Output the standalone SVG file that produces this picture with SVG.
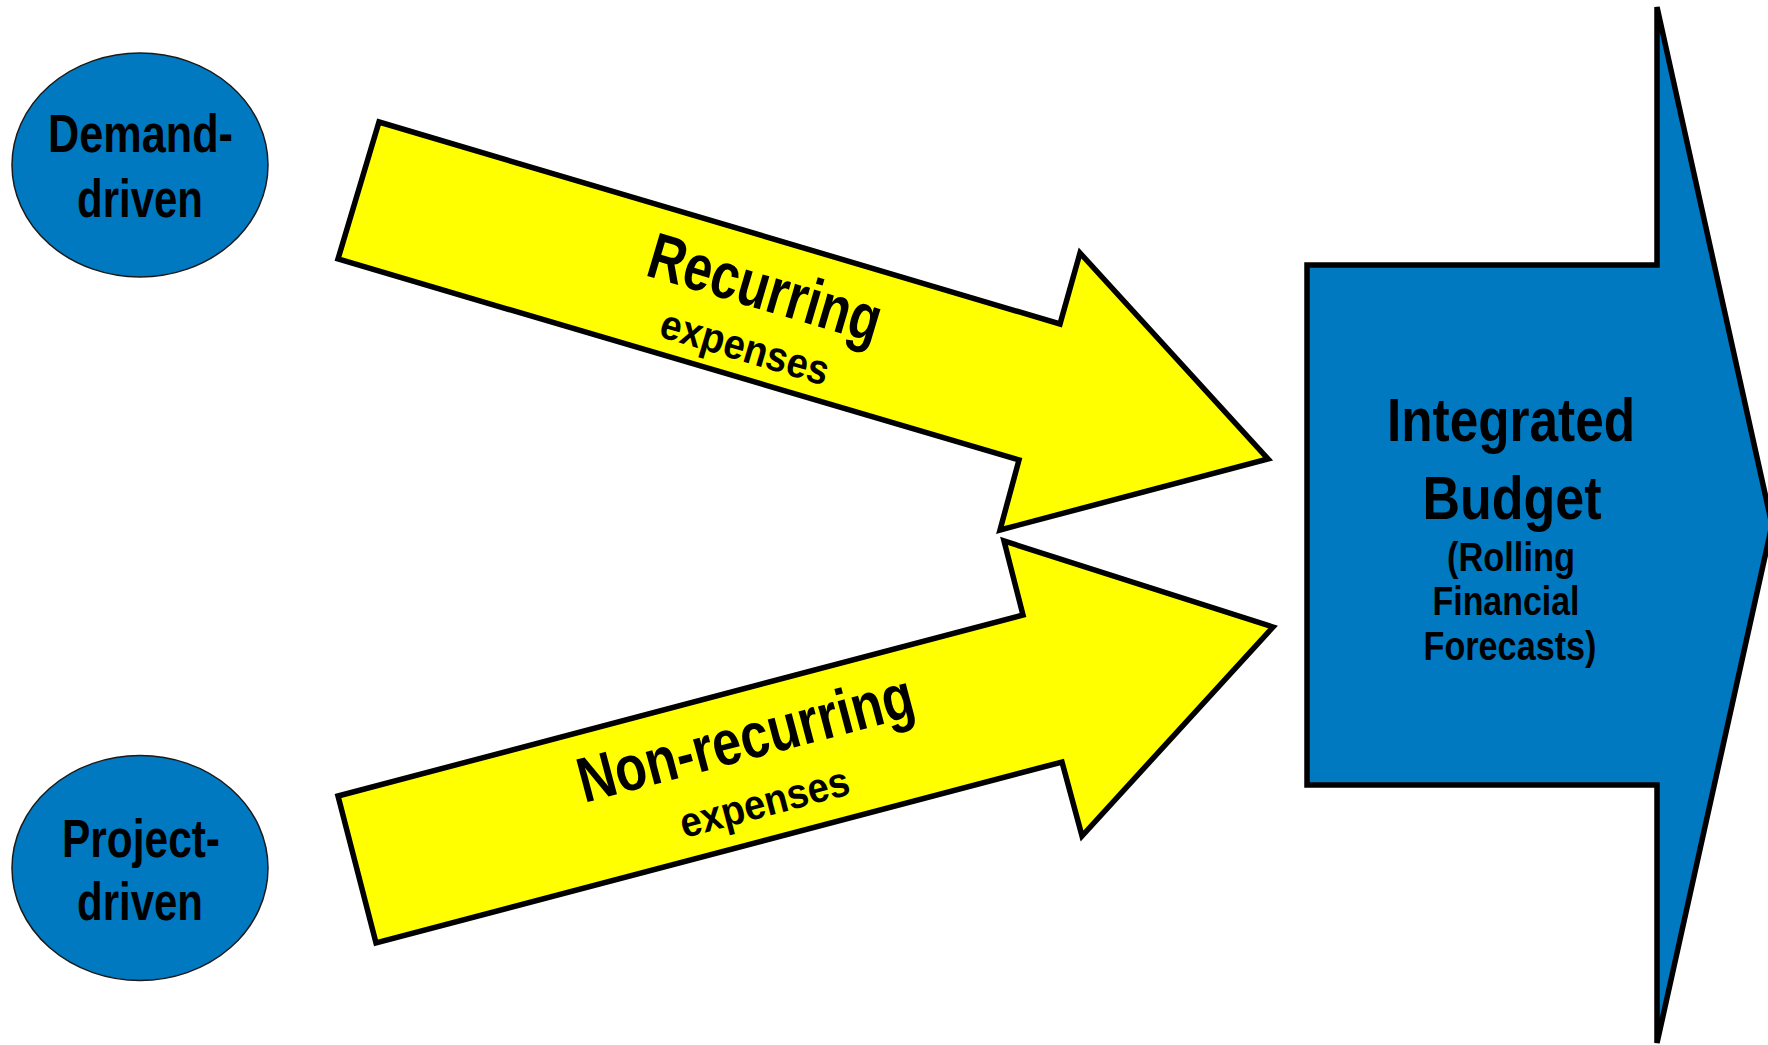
<svg xmlns="http://www.w3.org/2000/svg" width="1768" height="1045" viewBox="0 0 1768 1045">
<style>
.t{font-family:"Liberation Sans",Arial,sans-serif;font-weight:bold;fill:#000;text-anchor:middle}
.ell{fill:#0179C1;stroke:#1a1a1a;stroke-width:1.5}
.ya{fill:#FFFF00;stroke:#000;stroke-width:5.5;stroke-linejoin:miter}
.ba{fill:#0179C1;stroke:#000;stroke-width:5.5;stroke-linejoin:miter}
</style>
<rect width="1768" height="1045" fill="#fff"/>
<g id="demand-driven">
<ellipse class="ell" cx="140" cy="165" rx="128" ry="112"/>
<text class="t" x="140.5" y="152" font-size="53" textLength="185" lengthAdjust="spacingAndGlyphs">Demand-</text>
<text class="t" x="140" y="217" font-size="53" textLength="126" lengthAdjust="spacingAndGlyphs">driven</text>
</g>
<g id="project-driven">
<ellipse class="ell" cx="140" cy="868" rx="128" ry="112.5"/>
<text class="t" x="141" y="857" font-size="53" textLength="158" lengthAdjust="spacingAndGlyphs">Project-</text>
<text class="t" x="140" y="920" font-size="53" textLength="126" lengthAdjust="spacingAndGlyphs">driven</text>
</g>
<g id="connectors">
<g id="recurring">
<polygon class="ya" points="379,122 1060,324 1080,253 1268,459 1000,530 1019,460 338,259"/>
<text class="t" transform="translate(759,309) rotate(16.5)" font-size="65" textLength="240" lengthAdjust="spacingAndGlyphs">Recurring</text>
<text class="t" transform="translate(741,361) rotate(16.5)" font-size="42" textLength="174" lengthAdjust="spacingAndGlyphs">expenses</text>
</g>
<g id="non-recurring">
<polygon class="ya" points="338,796 1023,615 1004,541 1273,627 1082,836 1062,762 376,943"/>
<text class="t" transform="translate(751,759) rotate(-14.8)" font-size="64" textLength="345" lengthAdjust="spacingAndGlyphs">Non-recurring</text>
<text class="t" transform="translate(768,816) rotate(-14.8)" font-size="42" textLength="174" lengthAdjust="spacingAndGlyphs">expenses</text>
</g>
</g>
<g id="integrated-budget">
<polygon class="ba" points="1307,265 1657,265 1657,7 1772,525 1657,1043 1657,785 1307,785"/>
<text class="t" x="1511" y="441" font-size="61" textLength="248" lengthAdjust="spacingAndGlyphs">Integrated</text>
<text class="t" x="1512" y="519" font-size="61" textLength="179" lengthAdjust="spacingAndGlyphs">Budget</text>
<text class="t" x="1511" y="571" font-size="41" textLength="128" lengthAdjust="spacingAndGlyphs">(Rolling</text>
<text class="t" x="1506" y="615" font-size="41" textLength="147" lengthAdjust="spacingAndGlyphs">Financial</text>
<text class="t" x="1510" y="660" font-size="41" textLength="173" lengthAdjust="spacingAndGlyphs">Forecasts)</text>
</g>
</svg>
